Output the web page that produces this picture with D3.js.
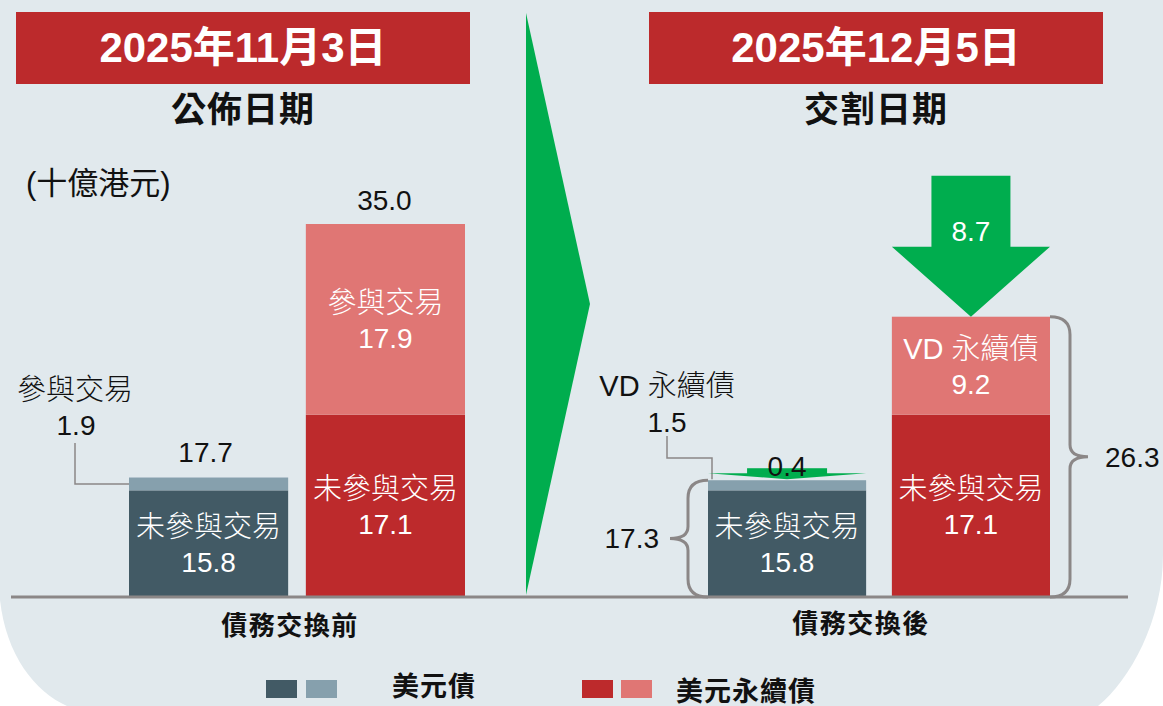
<!DOCTYPE html>
<html><head><meta charset="utf-8">
<script src="https://cdn.jsdelivr.net/npm/d3@7"></script>
<style>
html,body{margin:0;padding:0;background:#fff;}
svg{display:block;}
text{font-family:"Liberation Sans", Arial, "Noto Sans CJK TC", sans-serif;}
</style></head><body><svg id="c" width="1163" height="706"></svg>
<script>
// ---------- data ----------
const panelDates = ["2025年11月3日", "2025年12月5日"];
const panelSubtitles = ["公佈日期", "交割日期"];
const categories = ["債務交換前", "債務交換後"];
const series = ["美元債", "美元永續債"];
const usdNotParticipating = [15.8, 15.8];
const usdParticipating = [1.9, 1.5];
const perpNotParticipating = [17.1, 17.1];
const perpParticipating = [17.9, 9.2];
const usdTotals = [17.7, 17.3];
const perpTotals = [35.0, 26.3];
const reductions = [0.4, 8.7];            // 美元債, 美元永續債
const participatingLabels = ["參與交易", "VD 永續債"];
const notParticipatingLabel = "未參與交易";
const unitLabel = "(十億港元)";

// ---------- style ----------
const C = {
  bg: "#e1e9ed", dark: "#425a65", light: "#86a0ad", red: "#bd2a2c",
  pink: "#e07674", header: "#bc2a2c", green: "#00ad4e", gray: "#8b8787"
};
const fmt = d3.format(".1f");
const W = 1163, H = 706, baseline = 597;
const svg = d3.select("#c");

// background
svg.append("rect").attr("width", W).attr("height", H).attr("fill", "#fff");
svg.append("path")
  .attr("d", "M0,0 H1163 V555 C1163,620 1130,680 1098,706 H67 C35,692 6,655 0,600 Z")
  .attr("fill", C.bg);

// scales
const panelRanges = [[129, 465], [708, 1050]];
const panelPad = [0.1, 0.14];
const xBands = panelRanges.map((r, i) =>
  d3.scaleBand().domain(series).range(r).paddingInner(panelPad[i]));
const yUsd = d3.scaleLinear().domain([0, 20]).range([baseline, baseline - 135]);
const yPerp = d3.scaleLinear().domain([0, 35]).range([baseline, 224]);

function text(x, y, s, o = {}) {
  return svg.append("text").attr("x", x).attr("y", y).attr("dy", "0.35em")
    .attr("text-anchor", o.anchor || "middle")
    .attr("font-size", o.size || 28)
    .attr("font-weight", o.weight || 400)
    .attr("fill", o.fill || "#111")
    .attr("letter-spacing", o.ls || 0)
    .text(s);
}

// headers
const headerBoxes = [[16, 470], [649, 1103]];
headerBoxes.forEach((b, i) => {
  svg.append("rect").attr("x", b[0]).attr("y", 12).attr("width", b[1] - b[0]).attr("height", 72)
    .attr("fill", C.header);
  const cx = (b[0] + b[1]) / 2;
  text(cx, 47, panelDates[i], {size: 42, weight: 700, fill: "#fff"});
  text(cx, 110, panelSubtitles[i], {size: 35, weight: 700, fill: "#111", ls: 1});
});
text(26, 183, unitLabel, {anchor: "start", size: 31, fill: "#111"});

// green chevron
svg.append("polygon").attr("points", "526,13 590,304 526,595").attr("fill", C.green);

// bars
const segs = [];
categories.forEach((cat, i) => {
  segs.push({i, s: "美元債", y: yUsd, y0: 0, y1: usdNotParticipating[i], fill: C.dark,
    label: [notParticipatingLabel, fmt(usdNotParticipating[i])]});
  segs.push({i, s: "美元債", y: yUsd, y0: usdNotParticipating[i],
    y1: usdNotParticipating[i] + usdParticipating[i], fill: C.light, label: null});
  segs.push({i, s: "美元永續債", y: yPerp, y0: 0, y1: perpNotParticipating[i], fill: C.red,
    label: [notParticipatingLabel, fmt(perpNotParticipating[i])]});
  segs.push({i, s: "美元永續債", y: yPerp, y0: perpNotParticipating[i],
    y1: perpNotParticipating[i] + perpParticipating[i], fill: C.pink,
    label: i === 1 ? [participatingLabels[1], fmt(perpParticipating[i])] : [participatingLabels[0], fmt(perpParticipating[i])]});
});
svg.append("g").selectAll("rect").data(segs).join("rect")
  .attr("x", d => xBands[d.i](d.s))
  .attr("width", d => xBands[d.i].bandwidth())
  .attr("y", d => d.y(d.y1))
  .attr("height", d => d.y(d.y0) - d.y(d.y1))
  .attr("fill", d => d.fill);

segs.filter(d => d.label).forEach(d => {
  const cx = xBands[d.i](d.s) + xBands[d.i].bandwidth() / 2;
  const cy = (d.y(d.y0) + d.y(d.y1)) / 2;
  text(cx, cy - 17, d.label[0], {size: 29, fill: "#fff", weight: 300});
  text(cx, cy + 18.5, d.label[1], {size: 28, fill: "#fff"});
});

// axis baseline
svg.append("line").attr("x1", 11).attr("x2", 1128).attr("y1", baseline).attr("y2", baseline)
  .attr("stroke", C.gray).attr("stroke-width", 3);

// category labels
const catX = [290, 861], catY = [626, 624];
categories.forEach((c, i) => text(catX[i], catY[i], c, {size: 26, weight: 700, ls: 1.5}));

// totals above bars in panel 0
{
  const xb = xBands[0];
  text(xb("美元債") + xb.bandwidth() / 2 - 3, yUsd(usdTotals[0]) - 25, fmt(usdTotals[0]));
  text(xb("美元永續債") + xb.bandwidth() / 2 - 1, yPerp(perpTotals[0]) - 24, fmt(perpTotals[0]));
}

// leader annotations for participating USD bonds
{
  // panel 0
  const xb = xBands[0];
  const segMid = (yUsd(usdNotParticipating[0]) + yUsd(usdTotals[0])) / 2;
  text(75, 390, participatingLabels[0], {size: 29, weight: 300});
  text(76, 425, fmt(usdParticipating[0]));
  svg.append("path").attr("d", `M75,443 V${segMid} H${xb("美元債")}`)
    .attr("fill", "none").attr("stroke", C.gray).attr("stroke-width", 1.5);
  // panel 1
  const xr = xBands[1];
  text(667, 386, participatingLabels[1], {size: 29, weight: 300});
  text(667, 422, fmt(usdParticipating[1]));
  svg.append("path").attr("d", `M667,436 V458 H712 V${yUsd(usdTotals[1]) - 1}`)
    .attr("fill", "none").attr("stroke", C.gray).attr("stroke-width", 1.5);
}

// reduction arrows
{
  const xr = xBands[1];
  // small flat arrow on USD bond
  const ux = xr("美元債"), uw = xr.bandwidth(), ucx = ux + uw / 2, ut = yUsd(usdTotals[1]);
  svg.append("rect").attr("x", ucx - 40).attr("y", ut - 12).attr("width", 80).attr("height", 6).attr("fill", C.green);
  svg.append("polygon").attr("points", `${ux},${ut - 7} ${ux + uw},${ut - 7} ${ucx},${ut - 1}`).attr("fill", C.green);
  text(ucx, ut - 14, fmt(reductions[0]));
  // big arrow on perpetual
  const px = xr("美元永續債"), pw = xr.bandwidth(), pcx = px + pw / 2, pt = yPerp(perpTotals[1]);
  svg.append("path").attr("d",
    `M${pcx - 39.5},${pt - 141} H${pcx + 39.5} V${pt - 70} H${px + pw} L${pcx},${pt} L${px},${pt - 70} H${pcx - 39.5} Z`)
    .attr("fill", C.green);
  text(pcx, pt - 86, fmt(reductions[1]), {fill: "#fff"});
}

// braces
function brace(xEdge, top, bottom, dir) {
  const xv = xEdge + dir * 20, tip = xEdge + dir * 38, mid = (top + bottom) / 2, r = 18, r2 = 12;
  return `M${xEdge},${top} Q${xv},${top} ${xv},${top + r} V${mid - r2} Q${xv},${mid} ${tip},${mid}` +
    ` Q${xv},${mid} ${xv},${mid + r2} V${bottom - r} Q${xv},${bottom} ${xEdge},${bottom}`;
}
{
  const xr = xBands[1];
  const lt = yUsd(usdTotals[1]);
  svg.append("path").attr("d", brace(xr("美元債"), lt, baseline, -1))
    .attr("fill", "none").attr("stroke", C.gray).attr("stroke-width", 3);
  text(659, (lt + baseline) / 2, fmt(usdTotals[1]), {anchor: "end"});
  const rt = yPerp(perpTotals[1]);
  const rx = xr("美元永續債") + xr.bandwidth();
  svg.append("path").attr("d", brace(rx, rt, baseline, 1))
    .attr("fill", "none").attr("stroke", C.gray).attr("stroke-width", 3);
  text(1105, (rt + baseline) / 2, fmt(perpTotals[1]), {anchor: "start"});
}

// legend
const legendItems = [
  {label: series[0], colors: [C.dark, C.light], x: [266, 306], tx: 392, ty: 687},
  {label: series[1], colors: [C.red, C.pink], x: [582, 621], tx: 676, ty: 692}
];
legendItems.forEach(l => {
  l.colors.forEach((c, k) => svg.append("rect").attr("x", l.x[k]).attr("y", 680).attr("width", 31).attr("height", 18).attr("fill", c));
  text(l.tx, l.ty, l.label, {anchor: "start", size: 27, weight: 700, ls: 1});
});
</script></body></html>
